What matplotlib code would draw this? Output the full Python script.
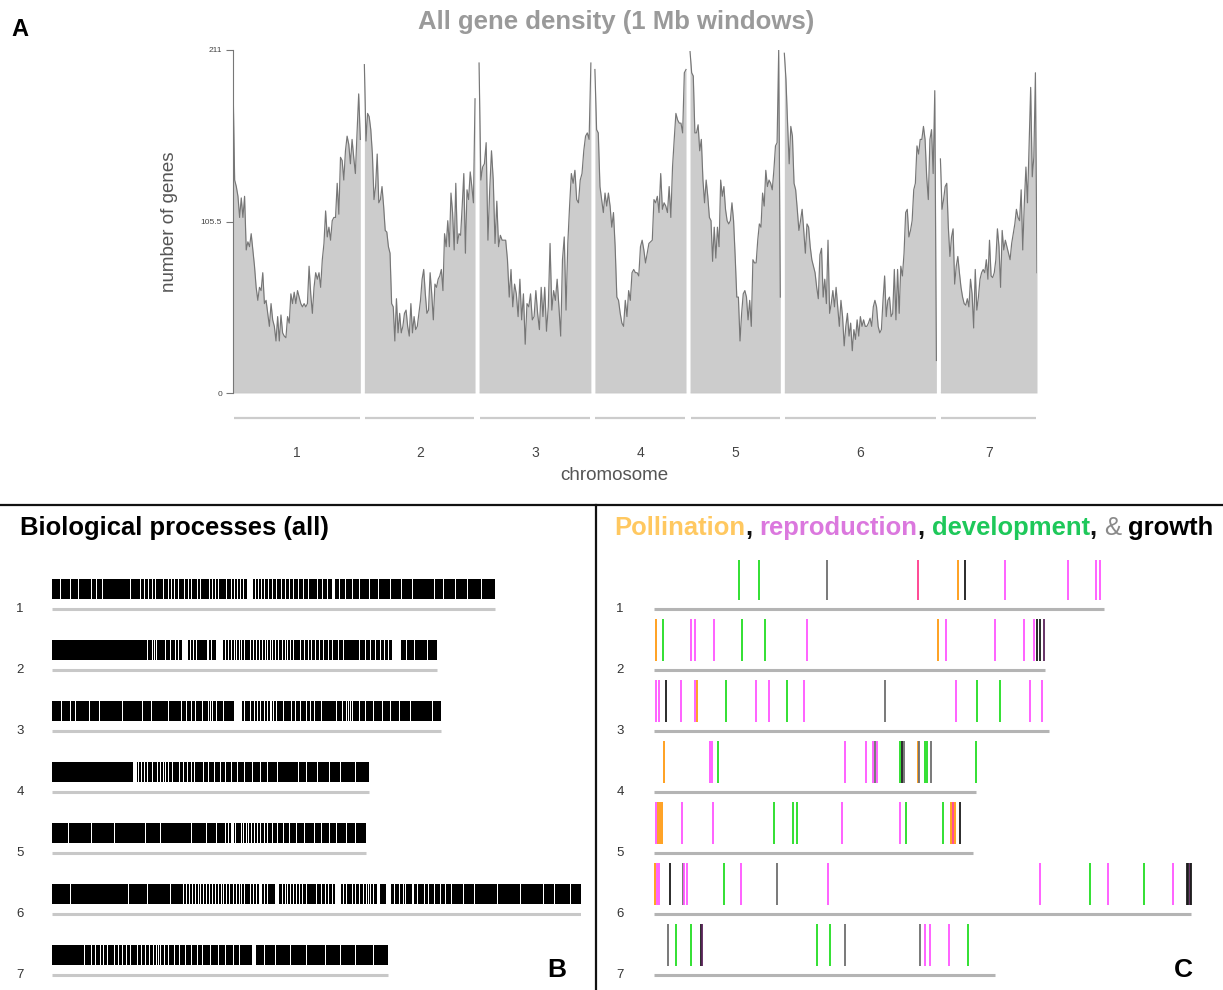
import matplotlib
matplotlib.use("Agg")
import matplotlib.pyplot as plt
import numpy as np
from matplotlib.lines import Line2D
from matplotlib.transforms import blended_transform_factory

plt.rcParams['font.family'] = ['Liberation Sans', 'DejaVu Sans']

# ---------------- data ----------------
chromosomes = ['1', '2', '3', '4', '5', '6', '7']
chrom_length_mb = [443, 385, 389, 317, 314, 529, 336]

# Panel A: gene counts per window (read along each chromosome)
density_chr1 = [192, 131, 127, 121, 108, 120, 108, 121, 88, 93, 90, 98, 88, 78, 65, 57, 65, 63, 74, 55,
                57, 49, 41, 55, 45, 41, 32, 47, 32, 48, 37, 35, 34, 47, 43, 61, 55, 62, 55, 63,
                59, 55, 53, 55, 53, 55, 78, 61, 49, 65, 74, 70, 74, 65, 82, 92, 112, 96, 102, 94,
                106, 108, 108, 129, 110, 145, 143, 131, 149, 158, 153, 141, 156, 145, 135, 160, 184, 156]
density_chr2 = [202, 155, 172, 170, 162, 147, 119, 127, 147, 117, 119, 127, 115, 100, 99, 90, 86, 55, 53, 32,
                58, 37, 49, 37, 41, 49, 51, 41, 35, 55, 37, 47, 39, 41, 49, 57, 70, 76, 61, 49,
                51, 74, 61, 45, 67, 65, 70, 72, 76, 63, 98, 90, 106, 90, 123, 111, 88, 129, 92, 98,
                97, 115, 135, 86, 125, 119, 136, 127, 117, 181]
density_chr3 = [203, 131, 139, 141, 154, 94, 125, 149, 131, 92, 118, 90, 97, 94, 94, 94, 82, 59, 76, 53,
                67, 61, 47, 70, 45, 61, 30, 55, 53, 61, 45, 47, 63, 49, 39, 65, 47, 65, 38, 53,
                92, 51, 63, 57, 70, 53, 35, 82, 96, 51, 92, 115, 135, 129, 137, 119, 117, 131, 135, 149,
                158, 160, 156, 203]
density_chr4 = [199, 162, 160, 127, 119, 111, 123, 115, 123, 115, 102, 111, 90, 59, 57, 49, 43, 41, 57, 47,
                63, 57, 74, 76, 74, 74, 72, 90, 94, 88, 80, 86, 92, 93, 94, 119, 117, 121, 111, 135,
                113, 117, 115, 111, 127, 108, 139, 156, 172, 168, 166, 166, 160, 197, 199]
density_chr5 = [210, 197, 195, 160, 160, 165, 149, 156, 131, 117, 131, 121, 108, 106, 81, 102, 83, 102, 90, 131,
                121, 127, 113, 106, 104, 106, 117, 106, 84, 59, 59, 32, 49, 61, 63, 59, 45, 57, 41, 82,
                80, 80, 94, 104, 102, 123, 115, 137, 127, 131, 129, 125, 137, 152, 154, 211, 59]
density_chr6 = [209, 193, 166, 141, 164, 158, 129, 125, 113, 100, 106, 113, 100, 86, 104, 102, 90, 82, 78, 74,
                65, 58, 85, 89, 59, 70, 55, 94, 49, 55, 63, 53, 65, 53, 41, 57, 47, 29, 41, 49,
                35, 43, 26, 39, 33, 45, 35, 47, 41, 45, 41, 41, 43, 46, 41, 53, 57, 53, 41, 37,
                39, 57, 72, 47, 57, 59, 47, 49, 76, 45, 76, 49, 78, 72, 86, 111, 113, 96, 100, 106,
                125, 129, 152, 147, 156, 156, 164, 156, 133, 119, 156, 162, 135, 186, 20]
density_chr7 = [144, 113, 119, 127, 129, 102, 84, 96, 101, 67, 78, 84, 74, 65, 59, 55, 54, 58, 53, 70,
                61, 40, 76, 51, 59, 70, 74, 76, 74, 82, 70, 94, 72, 71, 74, 82, 101, 90, 65, 100,
                88, 94, 90, 86, 82, 92, 98, 104, 113, 108, 106, 125, 88, 117, 139, 117, 152, 188, 133, 145,
                197, 74]
densities = [density_chr1, density_chr2, density_chr3, density_chr4, density_chr5, density_chr6, density_chr7]
y_ticks = [0, 105.5, 211]
y_tick_labels = ['0', '105.5', '211']

# Panel B: gene-free stretches (Mb) inside the barcode of each chromosome
thin_gaps_chr1 = [8.8, 18.8, 26.5, 39.8, 44.8, 50.6, 59.0, 78.1, 82.0, 85.0, 88.1, 92.7, 96.5, 100.3, 103.4,
                  108.0, 111.8, 116.4, 119.1, 122.5, 126.3, 132.5, 136.3, 139.4, 142.0, 145.5, 148.5, 152.0,
                  155.0, 157.7, 160.8, 163.5, 166.9, 170.0, 174.6, 179.5, 182.6, 185.3, 188.3, 191.4, 203.6,
                  206.7, 209.8, 212.8, 216.7, 220.5, 224.3, 229.3, 233.1, 237.3, 241.9, 246.5, 251.1, 256.1,
                  261.0, 265.6, 270.6, 275.2, 287.8, 293.6, 300.1, 307.7, 310.0, 317.3, 326.9, 338.4, 349.8,
                  360.5, 369.0, 382.4, 391.9, 403.4, 415.7, 418.0, 429.4]
wide_gaps_chr1 = [(194.5, 200.5), (280.0, 282.5)]
thin_gaps_chr2 = [95.7, 98.0, 102.2, 104.9, 108.0, 113.3, 118.3, 121.0, 123.3, 126.3, 138.2, 141.3, 144.3,
                  147.0, 159.6, 173.8, 176.9, 179.9, 182.2, 184.5, 187.2, 189.9, 192.9, 196.0, 198.7, 201.3,
                  204.4, 207.5, 210.5, 213.2, 215.9, 218.2, 220.9, 223.5, 226.2, 230.1, 233.1, 235.8, 238.9,
                  241.9, 245.0, 248.4, 252.2, 256.1, 259.9, 263.7, 267.6, 271.4, 276.4, 280.9, 286.7, 291.7,
                  297.0, 302.0, 307.7, 313.5, 318.5, 323.8, 328.8, 332.6, 336.4, 354.4, 362.1, 369.0, 375.9]
wide_gaps_chr2 = [(99.5, 101.2), (129.8, 136.3), (154.7, 157.3), (164.2, 170.7), (340.3, 342.6), (343.3, 348.7)]
thin_gaps_chr3 = [9.2, 18.8, 23.8, 37.9, 47.5, 62.0, 70.5, 80.0, 90.4, 99.2, 108.0, 116.4, 124.0, 129.8,
                  134.4, 139.4, 143.9, 147.0, 150.8, 156.6, 158.5, 160.4, 164.2, 171.9, 192.9, 198.7, 202.5,
                  205.2, 208.2, 212.1, 215.9, 218.2, 219.7, 221.6, 224.3, 231.2, 235.0, 239.6, 243.4, 248.4,
                  254.2, 258.8, 262.6, 269.5, 276.0, 284.8, 290.5, 294.3, 296.3, 298.2, 300.1, 307.7, 313.5,
                  321.1, 330.7, 338.4, 347.9, 358.3, 369.0, 380.5]
wide_gaps_chr3 = [(182.2, 189.9)]
thin_gaps_chr4 = [86.5, 89.6, 92.7, 95.3, 98.0, 100.3, 103.0, 105.7, 108.7, 111.8, 113.3, 116.4, 120.2,
                  124.0, 127.9, 131.7, 135.5, 139.4, 142.4, 147.0, 151.6, 156.6, 162.3, 168.1, 173.8, 179.5,
                  185.3, 192.9, 200.6, 208.2, 215.9, 225.5, 235.0, 246.5, 254.2, 265.6, 277.1, 288.6, 303.9]
wide_gaps_chr4 = [(80.8, 84.6)]
thin_gaps_chr5 = [16.9, 39.8, 62.8, 80.0, 93.4, 108.7, 124.0, 139.4, 154.7, 164.2, 170.0, 173.8, 176.5,
                  183.4, 186.0, 189.1, 191.4, 194.1, 196.8, 199.4, 202.5, 205.2, 208.2, 212.1, 215.9, 220.5,
                  225.5, 231.2, 237.7, 244.6, 252.2, 261.0, 262.6, 269.5, 277.1, 284.8, 294.3, 303.9]
wide_gaps_chr5 = [(178.8, 182.2)]
thin_gaps_chr6 = [18.8, 36.0, 59.0, 76.2, 95.3, 118.3, 131.7, 134.4, 137.4, 140.5, 143.2, 146.2, 148.9,
                  151.6, 154.7, 157.7, 160.4, 163.1, 166.1, 169.2, 171.9, 174.9, 177.6, 181.4, 184.5, 187.2,
                  189.9, 192.9, 196.0, 198.7, 201.3, 204.4, 212.1, 215.9, 230.4, 233.1, 235.8, 238.9, 241.9,
                  244.6, 247.3, 250.3, 254.2, 258.0, 261.0, 264.9, 269.5, 273.3, 276.4, 280.2, 291.3, 294.3,
                  297.0, 300.1, 303.1, 307.7, 311.6, 314.2, 316.2, 318.5, 321.1, 323.0, 342.2, 347.9, 351.8,
                  353.7, 365.1, 369.0, 372.8, 376.6, 382.4, 388.1, 393.8, 399.6, 411.1, 422.6, 434.0, 445.5,
                  457.0, 468.5, 480.0, 491.4, 502.9, 518.2]
wide_gaps_chr6 = [(206.7, 209.7), (222.8, 227.4), (283.2, 288.6), (325.4, 328.4), (333.7, 339.1), (359.5, 361.5)]
thin_gaps_chr7 = [32.2, 36.0, 39.8, 43.7, 48.3, 51.3, 55.2, 59.0, 62.8, 66.6, 70.5, 74.3, 78.1, 82.0, 85.8,
                  89.6, 93.4, 97.3, 101.1, 104.1, 106.8, 108.7, 112.6, 116.4, 122.1, 127.9, 133.6, 139.4,
                  145.1, 150.8, 158.5, 166.1, 173.8, 181.4, 187.2, 212.1, 223.5, 238.9, 254.2, 273.3, 288.6,
                  303.9, 321.1]
wide_gaps_chr7 = [(200.0, 203.5)]
thin_gaps = [thin_gaps_chr1, thin_gaps_chr2, thin_gaps_chr3, thin_gaps_chr4, thin_gaps_chr5, thin_gaps_chr6, thin_gaps_chr7]
wide_gaps = [wide_gaps_chr1, wide_gaps_chr2, wide_gaps_chr3, wide_gaps_chr4, wide_gaps_chr5, wide_gaps_chr6, wide_gaps_chr7]

# Panel C: gene positions (Mb) and category
# P pollination, R reproduction, r reproduction/pollination, D development, G growth, g growth (grey), X growth+reproduction
c_pos_chr1 = [83.3, 102.9, 170.1, 259.7, 298.8, 305.8, 345.3, 407.1, 434.9, 438.8]
c_cat_chr1 = ['D', 'D', 'g', 'r', 'P', 'G', 'R', 'R', 'R', 'R']
c_pos_chr2 = [2.0, 9.0, 36.0, 40.7, 59.1, 86.8, 109.1, 150.2, 280.0, 287.8, 335.9, 364.5, 374.3, 377.0, 380.1, 384.0]
c_cat_chr2 = ['P', 'D', 'R', 'R', 'R', 'D', 'D', 'R', 'P', 'R', 'R', 'R', 'R', 'G', 'G', 'X']
c_pos_chr3 = [2.0, 4.7, 11.8, 26.6, 39.9, 42.3, 70.4, 100.5, 113.0, 130.6, 147.4, 227.6, 296.8, 317.5, 340.2, 370.0, 382.1]
c_cat_chr3 = ['R', 'R', 'G', 'R', 'R', 'P', 'D', 'R', 'R', 'D', 'R', 'g', 'R', 'D', 'D', 'R', 'R']
c_pos_chr4 = [10.2, 54.8, 56.7, 63.0, 187.7, 208.5, 215.9, 217.4, 219.0, 242.1, 244.0, 246.4, 259.7, 261.2, 266.7, 269.1, 272.2, 316.7]
c_cat_chr4 = ['P', 'R', 'R', 'D', 'R', 'R', 'R', 'g', 'R', 'D', 'G', 'g', 'P', 'g', 'D', 'D', 'g', 'D']
c_pos_chr5 = [1.6, 3.5, 5.9, 7.5, 27.8, 58.3, 118.1, 136.5, 141.2, 184.6, 242.1, 248.0, 284.7, 292.5, 294.1, 296.1, 301.1]
c_cat_chr5 = ['R', 'P', 'P', 'P', 'R', 'R', 'D', 'D', 'D', 'R', 'R', 'D', 'D', 'P', 'r', 'P', 'G']
c_pos_chr6 = [0.8, 2.8, 4.7, 15.3, 28.2, 29.8, 32.5, 68.5, 85.7, 120.9, 171.3, 380.1, 429.4, 446.6, 482.6, 510.7, 524.4, 526.0, 527.6, 528.7]
c_cat_chr6 = ['P', 'R', 'R', 'G', 'g', 'R', 'R', 'D', 'R', 'g', 'R', 'R', 'D', 'R', 'D', 'R', 'G', 'G', 'X', 'G']
c_pos_chr7 = [13.3, 21.2, 36.0, 46.6, 47.7, 160.3, 173.2, 187.7, 262.0, 266.3, 271.4, 290.2, 309.4]
c_cat_chr7 = ['g', 'D', 'D', 'G', 'X', 'D', 'D', 'g', 'g', 'R', 'R', 'R', 'D']
c_positions = [c_pos_chr1, c_pos_chr2, c_pos_chr3, c_pos_chr4, c_pos_chr5, c_pos_chr6, c_pos_chr7]
c_categories = [c_cat_chr1, c_cat_chr2, c_cat_chr3, c_cat_chr4, c_cat_chr5, c_cat_chr6, c_cat_chr7]

category_colors = {'P': '#ff9a10', 'R': '#ff55ff', 'r': '#ff3c8c', 'D': '#22dd22',
                   'G': '#1a1a1a', 'g': '#6e6e6e', 'X': '#5a235a'}

# ---------------- figure ----------------
W, H = 1223, 990
fig = plt.figure(figsize=(W / 100, H / 100), dpi=100)
renderer = fig.canvas.get_renderer()


def px_axes(x0, y0, x1, y1):
    return fig.add_axes([x0 / W, 1 - y1 / H, (x1 - x0) / W, (y1 - y0) / H])


# ---------------- Panel A ----------------
axA = px_axes(233, 50, 1037, 393)
gap_mb = 14
offsets = np.concatenate([[0], np.cumsum(np.array(chrom_length_mb) + gap_mb)[:-1]])
total_mb = sum(chrom_length_mb) + gap_mb * (len(chrom_length_mb) - 1)
line_y = -(418 - 393) * 211 / 343
label_y = -(453 - 393) * 211 / 343
for name, off, L, dens in zip(chromosomes, offsets, chrom_length_mb, densities):
    x = off + np.linspace(0, L, len(dens))
    axA.fill_between(x, 0, dens, color='#cccccc', lw=0)
    axA.plot(x, dens, color='#767676', lw=0.85)
    axA.plot([off, off + L], [0, 0], color='#b0b0b0', lw=0.8)
    axA.plot([off + 2, off + L - 2], [line_y, line_y], color='#cccccc', lw=1.6,
             clip_on=False, solid_capstyle='butt')
    axA.text(off + L / 2, label_y, name, ha='center', va='center', fontsize=10, color='#444444')
axA.set_xlim(0, total_mb)
axA.set_ylim(0, 211)
for s in ['top', 'right', 'bottom']:
    axA.spines[s].set_visible(False)
axA.spines['left'].set_color('#777777')
axA.spines['left'].set_linewidth(0.8)
axA.set_xticks([])
axA.set_yticks(y_ticks)
axA.set_yticklabels(y_tick_labels)
axA.tick_params(axis='y', length=5, width=0.8, color='#777777', labelsize=6, labelcolor='#444444', pad=3)


def fitted_text(x_px, y_px, s, target_w, **kw):
    t = fig.text(x_px / W, 1 - y_px / H, s, **kw)
    w = t.get_window_extent(renderer).width
    t.set_fontsize(t.get_fontsize() * target_w / w)
    return t


fitted_text(616, 22, 'All gene density (1 Mb windows)', 397, ha='center', va='center',
            fontsize=18, fontweight='bold', color='#9a9a9a')
fig.text(20 / W, 1 - 30 / H, 'A', ha='center', va='center', fontsize=17, fontweight='bold')
fig.text(170 / W, 1 - 222 / H, 'number of genes', rotation=90, ha='center', va='center',
         fontsize=13.5, color='#555555')
fig.text(614 / W, 1 - 476 / H, 'chromosome', ha='center', va='center', fontsize=13.5, color='#555555')

# separators
fig.add_artist(Line2D([0, 1], [1 - 505 / H, 1 - 505 / H], color='#111111', lw=1.6))
fig.add_artist(Line2D([596 / W, 596 / W], [0, 1 - 505 / H], color='#111111', lw=1.6))

row_top_px, row_bottom_px, row_px = 560, 990, 61
row0 = (608.7 - row_top_px) / row_px
ylim_rows = (row_bottom_px - row_top_px) / row_px


def black_segments(L, thin, wide, w=0.85):
    cuts = sorted([(p - w / 2, p + w / 2) for p in thin] + list(wide))
    segs, cur = [], 0.0
    for a, b in cuts:
        if a > cur:
            segs.append((cur, a - cur))
        cur = max(cur, b)
    if cur < L:
        segs.append((cur, L - cur))
    return segs


# ---------------- Panel B ----------------
axB = px_axes(52, row_top_px, 52 + 529, row_bottom_px)
axB.set_xlim(0, 529)
axB.set_ylim(ylim_rows, 0)
axB.axis('off')
transB = blended_transform_factory(axB.transAxes, axB.transData)
for i, (name, L) in enumerate(zip(chromosomes, chrom_length_mb)):
    base = row0 + i
    segs = black_segments(L, thin_gaps[i], wide_gaps[i])
    axB.broken_barh(segs, (base - 29.4 / row_px, 20.0 / row_px), facecolors='black', edgecolor='none')
    axB.plot([0, L], [base, base], color='#c8c8c8', lw=2.2, solid_capstyle='butt')
    axB.text((20 - 52) / 529, base, name, transform=transB, ha='center', va='center',
             fontsize=9.5, color='#333333')

fitted_text(20, 528, 'Biological processes (all)', 309, ha='left', va='center',
            fontsize=18, fontweight='bold', color='black')
fig.text(557 / W, 1 - 970 / H, 'B', ha='center', va='center', fontsize=19, fontweight='bold')

# ---------------- Panel C ----------------
c_width_px = 538
c_xmax = 529.5
axC = px_axes(654, row_top_px, 654 + c_width_px, row_bottom_px)
axC.set_xlim(0, c_xmax)
axC.set_ylim(ylim_rows, 0)
axC.axis('off')
transC = blended_transform_factory(axC.transAxes, axC.transData)
for i, (name, L) in enumerate(zip(chromosomes, chrom_length_mb)):
    base = row0 + i
    cols = [category_colors[c] for c in c_categories[i]]
    axC.vlines(c_positions[i], base - 51 / row_px, base - 9 / row_px, colors=cols, lw=1.3)
    axC.plot([0, L], [base, base], color='#b4b4b4', lw=2.2, solid_capstyle='butt')
    axC.text((620 - 654) / c_width_px, base, name, transform=transC, ha='center', va='center',
             fontsize=9.5, color='#333333')

fig.text(1183 / W, 1 - 970 / H, 'C', ha='center', va='center', fontsize=19, fontweight='bold')

# multi-coloured title of panel C, fitted to span x = 614 .. 1215 px
title_parts = [('Pollination', '#ffc860', 'bold', False), (',', '#111111', 'bold', True),
               ('reproduction', '#db78de', 'bold', False), (',', '#111111', 'bold', True),
               ('development', '#1ec85a', 'bold', False), (',', '#111111', 'bold', True),
               ('&', '#8a8a8a', 'normal', True), ('growth', '#000000', 'bold', False)]


def title_width(size):
    a = fig.text(0, 0, 'a a', fontsize=size, fontweight='bold')
    b = fig.text(0, 0, 'aa', fontsize=size, fontweight='bold')
    sp = a.get_window_extent(renderer).width - b.get_window_extent(renderer).width
    a.remove(); b.remove()
    total = 0.0
    for txt, col, wt, space_after in title_parts:
        t = fig.text(0, 0, txt, fontsize=size, fontweight=wt)
        total += t.get_window_extent(renderer).width + (sp if space_after else 0)
        t.remove()
    return total, sp


size = 18.0
tw, _ = title_width(size)
size = size * (1215 - 614) / tw
_, space_px = title_width(size)
x_px = 614.0
for txt, col, wt, space_after in title_parts:
    t = fig.text(x_px / W, 1 - 528 / H, txt, ha='left', va='center', fontsize=size,
                 fontweight=wt, color=col)
    x_px += t.get_window_extent(renderer).width + (space_px if space_after else 0)

fig.savefig('out.png', dpi=100)
